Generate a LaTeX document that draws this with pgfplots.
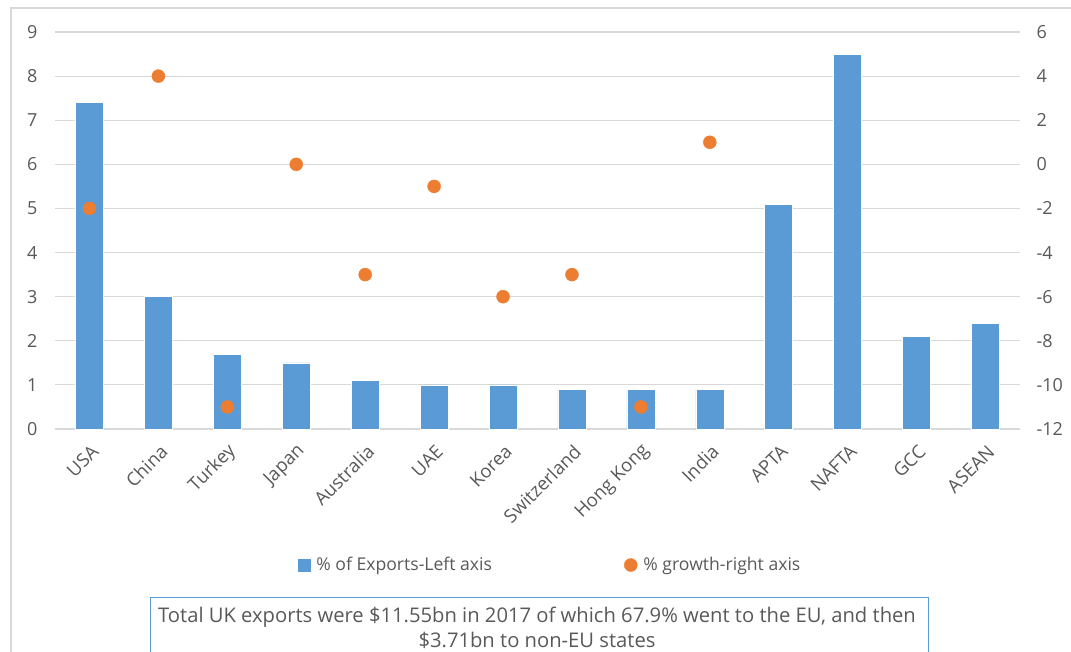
\documentclass[border=0pt]{standalone}
\usepackage{fontspec}
\setmainfont{Open Sans}
\usepackage{pgfplots}
\pgfplotsset{compat=1.18}
\definecolor{barblue}{HTML}{5B9BD5}
\definecolor{dotorange}{HTML}{ED7D31}
\definecolor{gridgray}{HTML}{D9D9D9}
\definecolor{labgray}{HTML}{595959}
\definecolor{framegray}{HTML}{D9D9D9}

\begin{document}
\begin{tikzpicture}[x=1pt,y=1pt]
\useasboundingbox (0,0) rectangle (1071,652);
\draw[framegray, line width=1.5pt] (11,-10) -- (11,644) -- (1080,644);
\begin{axis}[
  at={(55pt,223pt)}, anchor=south west,
  scale only axis, width=965pt, height=397pt,
  xmin=-0.5, xmax=13.5, ymin=0, ymax=9,
  ytick={0,1,...,9},
  xtick={0,1,...,13},
  xticklabels={USA,China,Turkey,Japan,Australia,UAE,Korea,Switzerland,Hong Kong,India,APTA,NAFTA,GCC,ASEAN},
  axis line style={draw=none},
  major tick length=0pt,
  ymajorgrids, grid style={gridgray, line width=1.2pt},
  /pgf/number format/assume math mode=true,
  yticklabel style={font=\fontsize{18}{21}\selectfont, text=labgray, anchor=east, xshift=-14pt},
  xticklabel style={font=\fontsize{18.5}{21}\selectfont, text=labgray, xshift=8pt, yshift=-17pt, rotate=45, anchor=east},
  legend columns=2,
  legend style={at={(0.513,-0.3426)}, anchor=center, draw=none, fill=none,
    font=\fontsize{17.6}{21}\selectfont, text=labgray,
    /tikz/every odd column/.append style={column sep=4pt},
    /tikz/every even column/.append style={column sep=130pt}},
  clip=false,
]
\addplot[ybar, bar width=28pt, fill=barblue, draw=white, line width=0.6pt,
  legend image code/.code={\fill[barblue] (0pt,-6pt) rectangle (12pt,6pt);}]
  coordinates {(0,7.4) (1,3.0) (2,1.7) (3,1.5) (4,1.1) (5,1.0) (6,1.0) (7,0.9) (8,0.9) (9,0.9) (10,5.1) (11,8.5) (12,2.1) (13,2.4)};
\addlegendentry{\% of Exports-Left axis}
\addlegendimage{legend image code/.code={\fill[dotorange] (6.5pt,0pt) circle (6.5pt);}}
\addlegendentry{\% growth-right axis}
\end{axis}
\begin{axis}[
  at={(55pt,223pt)}, anchor=south west,
  scale only axis, width=965pt, height=397pt,
  xmin=-0.5, xmax=13.5, ymin=-12, ymax=6,
  ytick={-12,-10,...,6},
  axis y line*=right, hide x axis,
  axis line style={draw=none},
  major tick length=0pt,
  /pgf/number format/assume math mode=true,
  yticklabel style={font=\fontsize{18}{21}\selectfont, text=labgray, anchor=west, xshift=13pt},
  clip=false,
]
\addplot[only marks, mark=*, mark size=6.5pt, mark options={fill=dotorange, draw=dotorange}]
  coordinates {(0,-2) (1,4) (2,-11) (3,0) (4,-5) (5,-1) (6,-6) (7,-5) (8,-11) (9,1)};
\end{axis}
\draw[barblue, line width=1pt] (150,-20) rectangle (928,54);
\node[align=center, font=\fontsize{20.2}{25}\selectfont, text=labgray] at (537,24)
  {Total UK exports were \$11.55bn in 2017 of which 67.9\% went to the EU, and then\\ \$3.71bn to non-EU states};
\end{tikzpicture}
\end{document}
